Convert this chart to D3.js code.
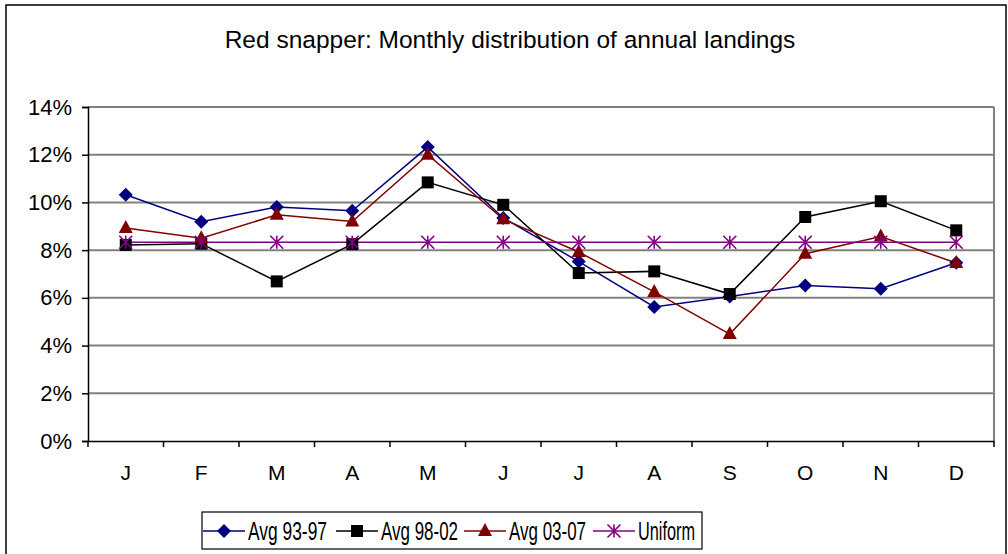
<!DOCTYPE html>
<html>
<head>
<meta charset="utf-8">
<script src="https://cdn.jsdelivr.net/npm/d3@7/dist/d3.min.js"></script>
<style>
  body { margin: 0; background: #fff; }
  text { font-family: "Liberation Sans", Arial, sans-serif; fill: #000; }
</style>
</head>
<body>
<div id="chart"></div>
<script>
const months = ["J", "F", "M", "A", "M", "J", "J", "A", "S", "O", "N", "D"];
const avg9397 = [10.32, 9.19, 9.81, 9.65, 12.32, 9.35, 7.52, 5.62, 6.06, 6.52, 6.38, 7.47];
const avg9802 = [8.22, 8.27, 6.69, 8.25, 10.84, 9.9, 7.04, 7.11, 6.16, 9.39, 10.05, 8.83];
const avg0307 = [8.93, 8.5, 9.48, 9.2, 12.0, 9.3, 7.92, 6.25, 4.48, 7.85, 8.57, 7.46];
const uniform = [8.33, 8.33, 8.33, 8.33, 8.33, 8.33, 8.33, 8.33, 8.33, 8.33, 8.33, 8.33];
const yTicks = [0, 2, 4, 6, 8, 10, 12, 14];

const series = [
  { name: "Avg 93-97", values: avg9397, color: "#000080", marker: "diamond" },
  { name: "Avg 98-02", values: avg9802, color: "#000000", marker: "square" },
  { name: "Avg 03-07", values: avg0307, color: "#800000", marker: "triangle" },
  { name: "Uniform", values: uniform, color: "#800080", marker: "star" }
];

const width = 1008, height = 554;
const margin = { left: 88, right: 14, top: 107, bottom: 113 };

const svg = d3.select("#chart").append("svg")
  .attr("width", width)
  .attr("height", height);

// chart frame
svg.append("rect")
  .attr("x", 6).attr("y", 5)
  .attr("width", width - 8).attr("height", height + 10)
  .attr("fill", "none").attr("stroke", "#000").attr("stroke-width", 1.5);

svg.append("text")
  .attr("x", 510).attr("y", 48)
  .attr("text-anchor", "middle")
  .style("font-size", "24.5px")
  .text("Red snapper: Monthly distribution of annual landings");

const x = d3.scaleBand()
  .domain(d3.range(months.length))
  .range([margin.left, width - margin.right]);

const y = d3.scaleLinear()
  .domain([0, 14])
  .range([height - margin.bottom, margin.top]);

// gridlines
svg.append("g")
  .selectAll("line")
  .data(yTicks.filter(d => d > 0))
  .enter().append("line")
  .attr("x1", margin.left).attr("x2", width - margin.right)
  .attr("y1", d => y(d)).attr("y2", d => y(d))
  .attr("stroke", "#808080").attr("stroke-width", 2);

// right border of plot
svg.append("line")
  .attr("x1", width - margin.right).attr("x2", width - margin.right)
  .attr("y1", y(14)).attr("y2", y(0))
  .attr("stroke", "#808080").attr("stroke-width", 2);

const yAxis = svg.append("g")
  .attr("transform", `translate(${margin.left},0)`)
  .call(d3.axisLeft(y).tickValues(yTicks).tickSize(6).tickPadding(10)
    .tickFormat(d => d + "%"));
yAxis.select(".domain").attr("stroke", "#000").attr("stroke-width", 1.5);
yAxis.selectAll(".tick line").attr("stroke", "#000").attr("stroke-width", 1.5);
yAxis.selectAll("text").style("font-size", "22px").attr("font-family", null);

const xAxis = svg.append("g")
  .attr("transform", `translate(0,${y(0)})`)
  .call(d3.axisBottom(x).tickSize(0).tickPadding(24).tickFormat(i => months[i]));
xAxis.select(".domain").attr("stroke", "#000").attr("stroke-width", 1.5);
xAxis.selectAll("text").style("font-size", "21px").attr("font-family", null);

// category tick marks on band edges
svg.append("g")
  .selectAll("line")
  .data(d3.range(months.length + 1))
  .enter().append("line")
  .attr("x1", i => margin.left + i * x.step())
  .attr("x2", i => margin.left + i * x.step())
  .attr("y1", y(0)).attr("y2", y(0) + 6)
  .attr("stroke", "#000").attr("stroke-width", 1.5);

const cx = i => x(i) + x.bandwidth() / 2;

function drawMarker(g, type, color) {
  if (type === "diamond") {
    g.append("path").attr("d", "M0,-7L7,0L0,7L-7,0Z").attr("fill", color);
  } else if (type === "square") {
    g.append("rect").attr("x", -6).attr("y", -6).attr("width", 12).attr("height", 12)
      .attr("fill", color);
  } else if (type === "triangle") {
    g.append("path").attr("d", "M0,-8L7,5L-7,5Z").attr("fill", color);
  } else {
    const s = 6.5;
    g.append("path")
      .attr("d", `M${-s},${-s}L${s},${s}M${-s},${s}L${s},${-s}M0,${-s}L0,${s}`)
      .attr("stroke", color).attr("stroke-width", 1.6).attr("fill", "none");
  }
}

const line = d3.line()
  .x((d, i) => cx(i))
  .y(d => y(d));

series.forEach(s => {
  svg.append("path")
    .datum(s.values)
    .attr("d", line)
    .attr("fill", "none")
    .attr("stroke", s.color)
    .attr("stroke-width", 1.5);
});

series.forEach(s => {
  svg.append("g").selectAll("g")
    .data(s.values)
    .enter().append("g")
    .attr("transform", (d, i) => `translate(${cx(i)},${y(d)})`)
    .each(function () { drawMarker(d3.select(this), s.marker, s.color); });
});

// legend
const legend = svg.append("g");
legend.append("rect")
  .attr("x", 202).attr("y", 512)
  .attr("width", 500).attr("height", 37)
  .attr("fill", "#fff").attr("stroke", "#000").attr("stroke-width", 1.2);

const legendX = [203, 336, 464, 593];
const legendW = [79, 77, 77, 57];
const item = legend.selectAll(".legend-item")
  .data(series)
  .enter().append("g")
  .attr("class", "legend-item")
  .attr("transform", (d, i) => `translate(${legendX[i]},531)`);

item.append("line")
  .attr("x1", 0).attr("x2", 42)
  .attr("stroke", d => d.color).attr("stroke-width", 1.5);
item.append("g")
  .attr("transform", "translate(21,0)")
  .each(function (d) { drawMarker(d3.select(this), d.marker, d.color); });
item.append("text")
  .attr("x", 45).attr("dy", "0.36em")
  .style("font-size", "25px")
  .attr("textLength", (d, i) => legendW[i])
  .attr("lengthAdjust", "spacingAndGlyphs")
  .text(d => d.name);
</script>
</body>
</html>
